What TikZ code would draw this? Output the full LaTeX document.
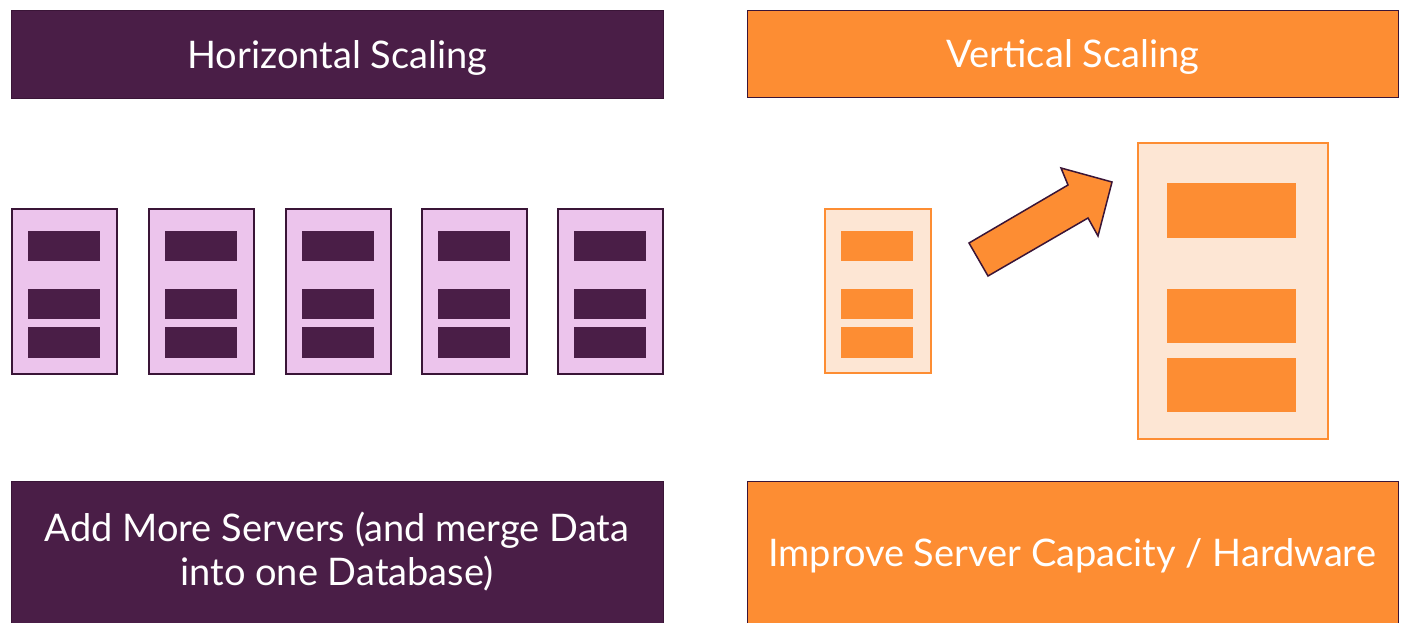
\documentclass[tikz,border=0pt]{standalone}
\usepackage{fontspec}
\setmainfont{Lato}
\definecolor{plum}{HTML}{4A1E47}
\definecolor{plumline}{HTML}{3A1537}
\definecolor{pinkfill}{HTML}{ECC4EC}
\definecolor{orng}{HTML}{FD8D33}
\definecolor{peach}{HTML}{FDE6D4}
\begin{document}
\begin{tikzpicture}[x=1pt,y=-1pt,
  panel/.style={draw=plumline, line width=1pt, inner sep=0pt, anchor=north west,
    text=white, align=center, font=\fontsize{38}{44}\selectfont, text depth=0pt},
  srvP/.style={draw=plumline, line width=1.5pt, fill=pinkfill, inner sep=0pt,
    anchor=north west, minimum width=105pt, minimum height=165pt},
  barP/.style={fill=plum, inner sep=0pt, anchor=north west, minimum width=72pt},
  srvO/.style={draw=orng, line width=1.5pt, fill=peach, inner sep=0pt,
    anchor=north west},
  barO/.style={fill=orng, inner sep=0pt, anchor=north west}]
\useasboundingbox (0,0) rectangle (1402,623);
\clip (0,0) rectangle (1402,623);
\fill[white] (0,0) rectangle (1402,623);
% headers
\node[panel, fill=plum, minimum width=652pt, minimum height=88pt] (hL) at (11,10) {Horizontal Scaling};
\node[panel, fill=orng, minimum width=651pt, minimum height=87pt] (hR) at (747,10) {Vertical Scaling};
% bottom panels
\node[panel, fill=plum, minimum width=652pt, minimum height=146pt] (bL) at (11,481) {};
\node[align=center, text=white, font=\fontsize{38}{44}\selectfont] (tL) at (337,552) {Add More Servers (and merge Data\\into one Database)};
\node[panel, fill=orng, minimum width=651pt, minimum height=146pt] (bR) at (747,481) {};
\node[text=white, font=\fontsize{38}{44}\selectfont, text depth=0pt] (tR) at (1072,553) {Improve Server Capacity / Hardware};
% horizontal servers
\foreach \i/\x in {1/11,2/148,3/285,4/421,5/557}{
  \node[srvP] (p\i) at (\x,208) {};
  \node[barP, minimum height=30pt] (p\i a) at (\x+17,231) {};
  \node[barP, minimum height=30pt] (p\i b) at (\x+17,289) {};
  \node[barP, minimum height=31pt] (p\i c) at (\x+17,327) {};
}
% small orange server
\node[srvO, minimum width=106pt, minimum height=164pt] (o1) at (824,208) {};
\node[barO, minimum width=72pt, minimum height=30pt] (o1a) at (841,231) {};
\node[barO, minimum width=72pt, minimum height=30pt] (o1b) at (841,289) {};
\node[barO, minimum width=72pt, minimum height=31pt] (o1c) at (841,327) {};
% large orange server
\node[srvO, minimum width=190pt, minimum height=296pt] (o2) at (1137,142) {};
\node[barO, minimum width=129pt, minimum height=55pt] (o2a) at (1167,183) {};
\node[barO, minimum width=129pt, minimum height=54pt] (o2b) at (1167,289) {};
\node[barO, minimum width=129pt, minimum height=54pt] (o2c) at (1167,358) {};
% arrow
\draw[fill=orng, draw=plumline, line width=1.5pt, line join=miter]
  (969,243) -- (988,276) -- (1088,218) -- (1098,236) -- (1112,182) -- (1061,168) -- (1068,185) -- cycle;
\end{tikzpicture}
\end{document}
